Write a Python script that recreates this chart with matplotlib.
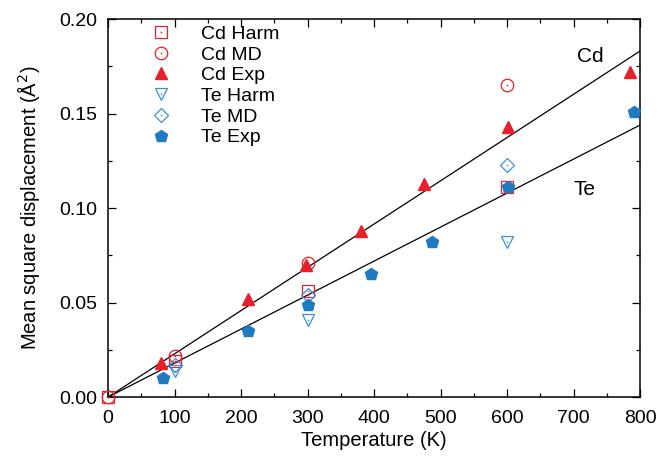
import matplotlib
matplotlib.use("Agg")
import matplotlib.pyplot as plt
from matplotlib.ticker import MultipleLocator, FormatStrFormatter
from matplotlib.legend_handler import HandlerTuple

plt.rcParams['font.family'] = ['Liberation Sans', 'DejaVu Sans']

cd_harm_T = [0, 100, 300, 600]
cd_harm_v = [0.0, 0.019, 0.056, 0.111]
cd_md_T = [0, 100, 300, 600]
cd_md_v = [0.0, 0.022, 0.071, 0.165]
cd_exp_T = [80, 210, 298, 380, 475, 602, 785]
cd_exp_v = [0.018, 0.052, 0.070, 0.088, 0.113, 0.143, 0.172]
te_harm_T = [100, 300, 600]
te_harm_v = [0.014, 0.041, 0.082]
te_md_T = [100, 300, 600]
te_md_v = [0.017, 0.054, 0.123]
te_exp_T = [82, 210, 300, 395, 487, 602, 790]
te_exp_v = [0.010, 0.035, 0.049, 0.065, 0.082, 0.111, 0.151]

cd_slope = 0.000229
te_slope = 0.000180
fit_T = [0, 800]

red = '#e8202a'
blue = '#1f7bc1'
lblue = '#3a90d8'

fig = plt.figure(figsize=(6.6, 4.57), dpi=100)
ax = fig.add_axes([0.1636, 0.131, 0.8064, 0.827])

ax.plot(fit_T, [cd_slope * t for t in fit_T], color='black', lw=0.9, zorder=1)
ax.plot(fit_T, [te_slope * t for t in fit_T], color='black', lw=0.9, zorder=1)

def open_series(T, v, marker, color, ms):
    h1, = ax.plot(T, v, linestyle='none', marker=marker, ms=ms, mfc='none',
                  mec=color, mew=0.9, zorder=3, clip_on=False)
    h2, = ax.plot(T, v, linestyle='none', marker='o', ms=1.2, mfc=color,
                  mec=color, mew=0, zorder=3, clip_on=False)
    return (h1, h2)

h_cdh = open_series(cd_harm_T, cd_harm_v, 's', red, 9)
h_cdm = open_series(cd_md_T, cd_md_v, 'o', red, 9)
h_cde, = ax.plot(cd_exp_T, cd_exp_v, linestyle='none', marker='^', ms=8,
                 color=red, zorder=3, clip_on=False)
h_teh = open_series(te_harm_T, te_harm_v, 'v', lblue, 9)
h_tem = open_series(te_md_T, te_md_v, 'D', lblue, 7)
h_tee, = ax.plot(te_exp_T, te_exp_v, linestyle='none', marker='p', ms=9,
                 color=blue, zorder=3, clip_on=False)

ax.legend([h_cdh, h_cdm, h_cde, h_teh, h_tem, h_tee],
          ['Cd Harm', 'Cd MD', 'Cd Exp', 'Te Harm', 'Te MD', 'Te Exp'],
          handler_map={tuple: HandlerTuple(ndivide=1)},
          loc='upper left', bbox_to_anchor=(0.055, 1.02), frameon=False,
          fontsize=14, handlelength=1.0, handletextpad=1.6,
          labelspacing=0.16, borderaxespad=0.3)

ax.text(725, 0.180, 'Cd', fontsize=15, ha='center', va='center')
ax.text(717, 0.110, 'Te', fontsize=15, ha='center', va='center')

ax.set_xlim(0, 800)
ax.set_ylim(0, 0.20)
ax.xaxis.set_major_locator(MultipleLocator(100))
ax.xaxis.set_minor_locator(MultipleLocator(50))
ax.yaxis.set_major_locator(MultipleLocator(0.05))
ax.yaxis.set_minor_locator(MultipleLocator(0.025))
ax.yaxis.set_major_formatter(FormatStrFormatter('%.2f'))
ax.tick_params(which='both', direction='in', top=True, right=True, labelsize=14, width=0.9)
ax.tick_params(which='major', length=6)
ax.tick_params(axis='x', which='major', pad=9)
ax.tick_params(axis='y', which='major', pad=8)
ax.tick_params(which='minor', length=3)
for s in ax.spines.values():
    s.set_linewidth(1.1)

ax.set_xlabel('Temperature (K)', fontsize=14.5, labelpad=3)
ax.set_ylabel('Mean square displacement (Å$^2$)', fontsize=14.5, labelpad=12)

fig.savefig('out.png', dpi=100)
